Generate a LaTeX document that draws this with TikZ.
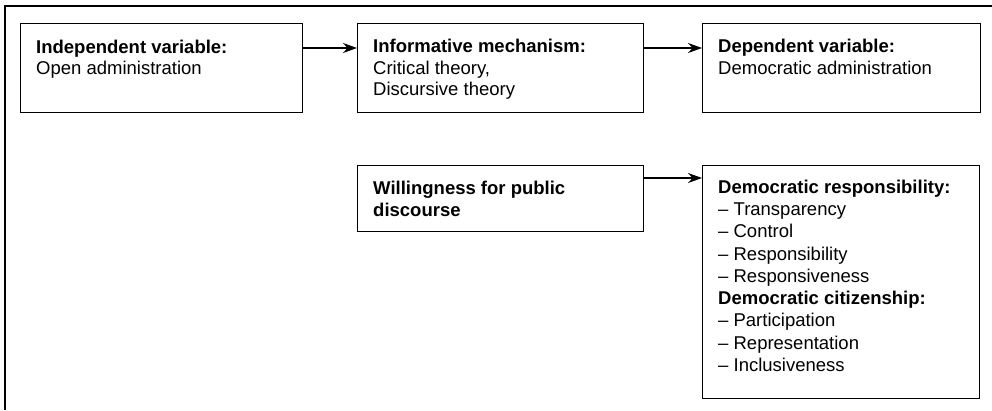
\documentclass[tikz,border=0pt]{standalone}
\usepackage{fontspec}
\setmainfont{Liberation Sans}
\usetikzlibrary{arrows.meta}
\tikzset{x=1pt,y=-1pt,
  framebox/.style={draw,line width=1.2pt,anchor=north west,inner sep=0pt},
  boxtext/.style={anchor=north west,align=left,inner sep=0pt,
    font=\fontsize{18.5}{21.5}\selectfont},
  conn/.style={-{Stealth[length=14pt,width=10pt]},line width=1.2pt}}
\begin{document}
\begin{tikzpicture}
  \useasboundingbox (0,0) rectangle (992,410);
  % outer frame, cut off at right and bottom
  \draw[line width=1.5pt] (5,410) -- (5,6) -- (992,6);
  % top row
  \node[framebox,minimum width=282pt,minimum height=89pt] (indep) at (20,23) {};
  \node[framebox,minimum width=286pt,minimum height=89pt] (mech) at (357,23) {};
  \node[framebox,minimum width=278pt,minimum height=89pt] (dep) at (702,23) {};
  \node[boxtext] (indeptxt) at ([shift={(16pt,-16.5pt)}]indep.north west)
    {\textbf{Independent variable:}\\Open administration};
  \node[boxtext] (mechtxt) at ([shift={(16pt,-16pt)}]mech.north west)
    {\textbf{Informative mechanism:}\\Critical theory,\\Discursive theory};
  \node[boxtext] (deptxt) at ([shift={(16pt,-16pt)}]dep.north west)
    {\textbf{Dependent variable:}\\Democratic administration};
  % bottom row
  \node[framebox,minimum width=286pt,minimum height=66pt] (will) at (357,165) {};
  \node[framebox,minimum width=277pt,minimum height=233pt] (resp) at (702,165) {};
  \node[boxtext] (willtxt) at ([shift={(16pt,-16pt)}]will.north west)
    {\textbf{Willingness for public}\\\textbf{discourse}};
  \node[boxtext,font=\fontsize{18.5}{22.3}\selectfont] (resptxt)
    at ([shift={(16pt,-14.5pt)}]resp.north west)
    {\textbf{Democratic responsibility:}\\
     -- Transparency\\
     -- Control\\
     -- Responsibility\\
     -- Responsiveness\\
     \textbf{Democratic citizenship:}\\
     -- Participation\\
     -- Representation\\
     -- Inclusiveness};
  % connectors
  \draw[conn] ([yshift=-25pt]indep.north east) -- ([yshift=-25pt]mech.north west);
  \draw[conn] ([yshift=-25pt]mech.north east) -- ([yshift=-25pt]dep.north west);
  \draw[conn] ([yshift=-13pt]will.north east) -- ([yshift=-13pt]resp.north west);
\end{tikzpicture}
\end{document}
